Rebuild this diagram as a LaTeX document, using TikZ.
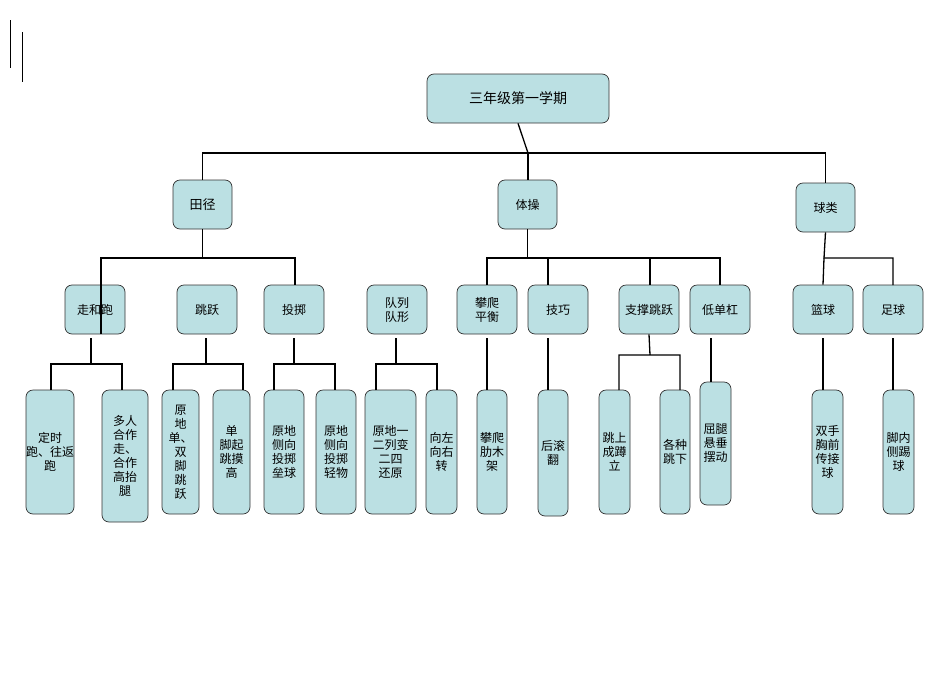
\documentclass[tikz,border=0pt]{standalone}
\usepackage{fontspec}
\newfontfamily\cjk{Noto Sans CJK SC}
\begin{document}
\begin{tikzpicture}[x=1pt,y=-1pt,
  bx/.style={draw=black!80,fill=boxc,rounded corners=7pt,inner sep=0pt,align=center,font=\cjk\fontsize{12}{14}\selectfont,line width=0.7pt},
  ln/.style={line width=1.3pt}]
\definecolor{boxc}{HTML}{BBE0E3}
\useasboundingbox (0,0) rectangle (950,672);
\newcommand\bx[6]{\node[bx,minimum width={#4-#2},minimum height={#5-#3}] (#1) at ({(#2+#4)/2},{(#3+#5)/2}) {#6};}
\draw[line width=1pt] (10,20) -- (10,68) (22,32) -- (22,82);
\bx{top}{427}{74}{609}{123}{\fontsize{14}{16}\selectfont 三年级第一学期}
\bx{tj}{173}{180}{232}{229}{\fontsize{13}{15}\selectfont 田径}
\bx{tc}{498}{180}{557}{229}{体操}
\bx{ql}{796}{183}{855}{232}{球类}
\bx{zp}{65}{285}{125}{334}{走和跑}
\bx{ty}{177}{285}{237}{334}{跳跃}
\bx{tz}{264}{285}{324}{334}{投掷}
\bx{dl}{367}{285}{427}{334}{队列\\队形}
\bx{pp}{457}{285}{517}{334}{攀爬\\平衡}
\bx{jq}{528}{285}{588}{334}{技巧}
\bx{zc}{619}{285}{679}{334}{支撑跳跃}
\bx{dd}{690}{285}{750}{334}{低单杠}
\bx{lq}{793}{285}{853}{334}{篮球}
\bx{zq}{863}{285}{923}{334}{足球}
\bx{a1}{35}{390}{65}{514}{定时\\跑、往返\\跑}
\bx{a2}{102}{390}{148}{522}{多人\\合作\\走、\\合作\\高抬\\腿}
\bx{b1}{162}{390}{199}{514}{原\\地\\单、\\双\\脚\\跳\\跃}
\bx{b2}{213}{390}{250}{514}{单\\脚起\\跳摸\\高}
\bx{c1}{264}{390}{304}{514}{原地\\侧向\\投掷\\垒球}
\bx{c2}{316}{390}{356}{514}{原地\\侧向\\投掷\\轻物}
\bx{d1}{365}{390}{416}{514}{原地一\\二列变\\二四\\还原}
\bx{d2}{426}{390}{457}{514}{向左\\向右\\转}
\bx{e1}{477}{390}{507}{514}{攀爬\\肋木\\架}
\bx{f1}{538}{390}{568}{516}{后滚\\翻}
\bx{g1}{599}{390}{630}{514}{跳上\\成蹲\\立}
\bx{g2}{660}{390}{690}{514}{各种\\跳下}
\bx{h1}{700}{382}{731}{505}{屈腿\\悬垂\\摆动}
\bx{i1}{812}{390}{843}{514}{双手\\胸前\\传接\\球}
\bx{j1}{883}{390}{914}{514}{脚内\\侧踢\\球}
\draw[ln] (top.south) -- (528,153) coordinate (m0);
\draw[ln] (tj.north) -- (tj.north|-m0) -- (ql.north|-m0) -- (ql.north);
\draw[ln] (tc.north-|m0) -- (m0);
\draw[ln] (tj.south) -- ++(0,29) coordinate (m1);
\draw[ln] (101,334) -- (101,258) -- (295,258) -- (295,285);
\draw[ln] (tc.south) -- ++(0,29) coordinate (m2);
\draw[ln] (487,285) -- (487,258) -- (720,258) -- (720,285);
\draw[ln] (548,258) -- (548,285) (650,258) -- (650,285);
\draw[ln] (ql.south) -- (824,258) -- (893,258) -- (893,285);
\draw[ln] (824,258) -- (lq.north);
\draw[ln] (91,338) -- (91,364) coordinate (n1);
\draw[ln] (51,390) -- (51,364) -- (122,364) -- (122,390);
\draw[ln] (206,338) -- (206,364) (173,390) -- (173,364) -- (243,364) -- (243,390);
\draw[ln] (294,338) -- (294,364) (274,390) -- (274,364) -- (335,364) -- (335,390);
\draw[ln] (396,338) -- (396,364) (376,390) -- (376,364) -- (437,364) -- (437,390);
\draw[ln] (487,338) -- (487,390);
\draw[ln] (548,338) -- (548,390);
\draw[ln] (zc.south) -- (650,355) (619,390) -- (619,355) -- (680,355) -- (680,390);
\draw[ln] (711,338) -- (711,382);
\draw[ln] (823,338) -- (823,390);
\draw[ln] (893,338) -- (893,390);
\end{tikzpicture}
\end{document}
